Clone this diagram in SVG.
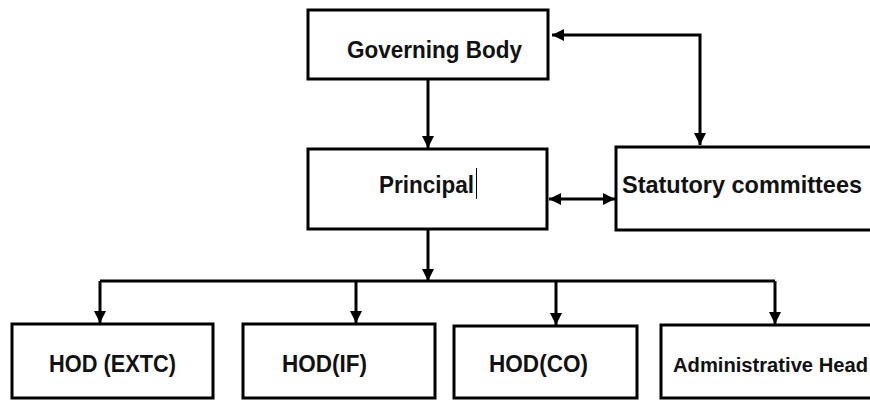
<svg xmlns="http://www.w3.org/2000/svg" width="870" height="401" viewBox="0 0 870 401">
<style>
.box{fill:#fff;stroke:#000;stroke-width:3}
.lbl{font-family:"Liberation Sans",Arial,sans-serif;font-weight:bold;font-size:24px;fill:#111}
.small{font-size:19.5px}
.con{fill:none;stroke:#000;stroke-width:3}
</style>
<defs>
<marker id="ah" markerUnits="userSpaceOnUse" markerWidth="12" markerHeight="12" viewBox="0 0 12 12" refX="12" refY="6" orient="auto-start-reverse">
<path d="M0,0 L12,6 L0,12 Z" fill="#000"/>
</marker>
</defs>
<rect width="870" height="401" fill="#fff"/>
<g id="connectors">
<line class="con" x1="428" y1="79" x2="428" y2="148" marker-end="url(#ah)"/>
<path class="con" d="M552,35 H700 V145" marker-start="url(#ah)" marker-end="url(#ah)"/>
<line class="con" x1="549" y1="199" x2="615" y2="199" marker-start="url(#ah)" marker-end="url(#ah)"/>
<line class="con" x1="428" y1="229" x2="428" y2="281" marker-end="url(#ah)"/>
<path class="con" d="M100,281 H775"/>
<line class="con" x1="100" y1="281" x2="100" y2="323" marker-end="url(#ah)"/>
<line class="con" x1="356" y1="281" x2="356" y2="323" marker-end="url(#ah)"/>
<line class="con" x1="556" y1="281" x2="556" y2="325" marker-end="url(#ah)"/>
<line class="con" x1="775" y1="281" x2="775" y2="324" marker-end="url(#ah)"/>
</g>
<g id="governing-body">
<rect class="box" x="308" y="10" width="240" height="69"/>
<text class="lbl" x="347" y="58" textLength="175" lengthAdjust="spacingAndGlyphs">Governing Body</text>
</g>
<g id="principal">
<rect class="box" x="308" y="149" width="239" height="80"/>
<text class="lbl" x="379" y="193" textLength="95" lengthAdjust="spacingAndGlyphs">Principal</text>
<line x1="476.5" y1="168" x2="476.5" y2="199" stroke="#000" stroke-width="1"/>
</g>
<g id="statutory-committees">
<rect class="box" x="616" y="147" width="270" height="83"/>
<text class="lbl" x="622" y="193" textLength="240" lengthAdjust="spacingAndGlyphs">Statutory committees</text>
</g>
<g id="hod-extc">
<rect class="box" x="12" y="324" width="201" height="74"/>
<text class="lbl" x="49" y="372" textLength="127" lengthAdjust="spacingAndGlyphs">HOD (EXTC)</text>
</g>
<g id="hod-if">
<rect class="box" x="243" y="324" width="192" height="74"/>
<text class="lbl" x="282" y="372" textLength="85" lengthAdjust="spacingAndGlyphs">HOD(IF)</text>
</g>
<g id="hod-co">
<rect class="box" x="454" y="326" width="183" height="72"/>
<text class="lbl" x="489" y="372" textLength="99" lengthAdjust="spacingAndGlyphs">HOD(CO)</text>
</g>
<g id="administrative-head">
<rect class="box" x="661" y="325" width="230" height="73"/>
<text class="lbl small" x="673" y="372" textLength="195" lengthAdjust="spacingAndGlyphs">Administrative Head</text>
</g>
</svg>
